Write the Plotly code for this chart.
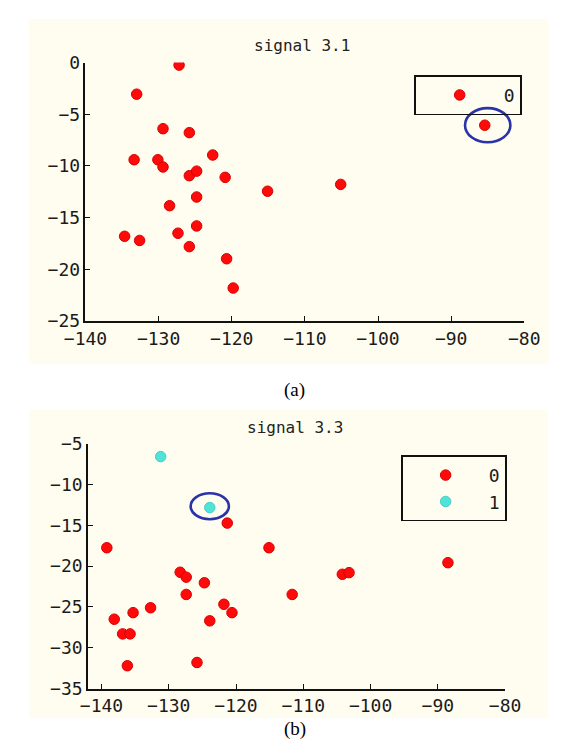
import plotly.graph_objects as go

W, H = 572, 755

# ---------------- data: (a) signal 3.1 ----------------
a_x = [-127.2, -133.0, -129.4, -125.8, -122.6, -133.35, -130.1, -129.4, -125.8,
       -124.8, -120.9, -115.1, -105.1, -124.8, -128.5, -124.8, -134.65, -132.6,
       -127.35, -125.8, -120.7, -119.8, -85.4]
a_y = [-0.25, -3.06, -6.4, -6.78, -8.94, -9.4, -9.4, -10.1, -10.94,
       -10.5, -11.1, -12.44, -11.78, -13.0, -13.84, -15.8, -16.8, -17.2,
       -16.5, -17.8, -18.97, -21.8, -6.06]

# ---------------- data: (b) signal 3.3 ----------------
b0_x = [-121.3, -139.2, -115.1, -88.5, -128.3, -127.4, -124.7, -127.4, -111.65,
        -104.2, -103.2, -132.7, -135.3, -138.1, -136.85, -135.75, -136.15,
        -125.8, -123.9, -121.8, -120.6]
b0_y = [-14.73, -17.75, -17.75, -19.58, -20.75, -21.35, -22.04, -23.47, -23.47,
        -21.0, -20.8, -25.1, -25.7, -26.5, -28.3, -28.3, -32.2,
        -31.8, -26.7, -24.67, -25.7]
b1_x = [-131.2, -123.9]
b1_y = [-6.59, -12.83]

a_xticks = [-140, -130, -120, -110, -100, -90, -80]
a_yticks = [-25, -20, -15, -10, -5, 0]
b_yticks = [-35, -30, -25, -20, -15, -10, -5]

RED = "#ff0a0a"
CYAN = "#52e3d8"
BLUE = "#2a33a8"
CREAM = "#fffdef"
MONO = "DejaVu Sans Mono"

def px(v):
    return v / W

def py(v):
    return 1 - v / H

fig = go.Figure()

mk = dict(size=10.5, symbol="circle", line=dict(width=1, color="#d80000"))

fig.add_trace(go.Scatter(x=a_x, y=a_y, mode="markers", name="0",
                         marker=dict(color=RED, **mk),
                         xaxis="x", yaxis="y", legend="legend"))
fig.add_trace(go.Scatter(x=b0_x, y=b0_y, mode="markers", name="0",
                         marker=dict(color=RED, **mk),
                         xaxis="x2", yaxis="y2", legend="legend2"))
fig.add_trace(go.Scatter(x=b1_x, y=b1_y, mode="markers", name="1",
                         marker=dict(color=CYAN, size=10.5, symbol="circle",
                                     line=dict(width=1, color="#3fd0c6")),
                         xaxis="x2", yaxis="y2", legend="legend2"))

axis_common = dict(showline=True, linecolor="#111", linewidth=1.6,
                   ticks="inside", ticklen=5, tickwidth=1.4, tickcolor="#111",
                   showgrid=False, zeroline=False, fixedrange=True,
                   tickfont=dict(family=MONO, size=18, color="#1a1a1a"))

fig.update_layout(
    width=W, height=H, autosize=False,
    margin=dict(l=0, r=0, t=0, b=0),
    paper_bgcolor="white", plot_bgcolor="rgba(0,0,0,0)",
    showlegend=True,
    xaxis=dict(domain=[px(68), px(538)], range=[-140, -80], anchor="y",
               tickvals=a_xticks, **axis_common),
    yaxis=dict(domain=[py(319), py(53)], range=[-25, 0], anchor="x",
               tickvals=a_yticks, **axis_common),
    xaxis2=dict(domain=[px(70.7), px(517.5)], range=[-142, -80], anchor="y2",
                tickvals=a_xticks, **axis_common),
    yaxis2=dict(domain=[py(697), py(445)], range=[-35, -5], anchor="x2",
                tickvals=b_yticks, **axis_common),
    legend=dict(x=px(420), y=py(66), xanchor="left", yanchor="top",
                bordercolor="#111", borderwidth=1.6, bgcolor="rgba(0,0,0,0)",
                itemwidth=78, font=dict(family=MONO, size=18, color="#1a1a1a")),
    legend2=dict(x=px(406), y=py(457), xanchor="left", yanchor="top",
                 bordercolor="#111", borderwidth=1.6, bgcolor="rgba(0,0,0,0)",
                 itemwidth=76, font=dict(family=MONO, size=18, color="#1a1a1a")),
)

# cream panels
fig.add_shape(type="rect", xref="paper", yref="paper", layer="below",
              x0=px(7), x1=px(564), y0=py(363), y1=py(8),
              fillcolor=CREAM, line=dict(width=0))
fig.add_shape(type="rect", xref="paper", yref="paper", layer="below",
              x0=px(8), x1=px(563), y0=py(727), y1=py(410),
              fillcolor=CREAM, line=dict(width=0))

# highlight ellipses around the marked points
fig.add_shape(type="circle", xref="x", yref="y",
              x0=a_x[-1] + 0.4 - 3.1, x1=a_x[-1] + 0.4 + 3.1,
              y0=a_y[-1] - 1.65, y1=a_y[-1] + 1.65,
              line=dict(color=BLUE, width=2.6))
fig.add_shape(type="circle", xref="x2", yref="y2",
              x0=b1_x[1] - 2.84, x1=b1_x[1] + 2.84,
              y0=b1_y[1] + 0.16 - 1.59, y1=b1_y[1] + 0.16 + 1.59,
              line=dict(color=BLUE, width=2.6))

# titles and captions
def label(text, x, y, family, size, color):
    fig.add_annotation(text=text, x=px(x), y=py(y), xref="paper", yref="paper",
                       xanchor="center", yanchor="middle", showarrow=False,
                       font=dict(family=family, size=size, color=color))

label("signal 3.1", 300, 35, MONO, 16, "#222")
label("signal 3.3", 292, 428, MONO, 16, "#222")
label("(a)", 292, 390, "Liberation Serif", 19, "#000")
label("(b)", 292, 739, "Liberation Serif", 19, "#000")

fig.write_html("out.html")
